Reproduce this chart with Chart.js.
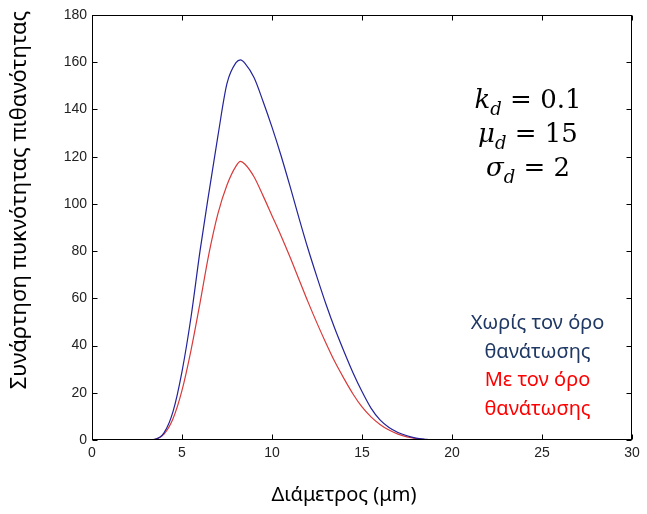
<!DOCTYPE html>
<html>
<head>
<meta charset="utf-8">
<script src="https://cdn.jsdelivr.net/npm/chart.js@4/dist/chart.umd.min.js"></script>
<style>
  body { margin: 0; background: #fff; }
  #wrap { position: relative; width: 647px; height: 514px; }
  .params {
    position: absolute; left: 440px; top: 82px; width: 176px;
    text-align: center; font-family: "DejaVu Serif", serif; font-size: 26px;
    line-height: 34px; color: #000;
  }
  .params i { font-style: italic; }
  .params sub { font-size: 18px; vertical-align: -7px; line-height: 0; font-style: italic; }
  .note {
    position: absolute; left: 442px; top: 308px; width: 191px;
    text-align: center; font-family: "Noto Sans", sans-serif; font-size: 20px;
    line-height: 28.5px;
  }
  .note .without { color: #1f3864; }
  .note .with { color: #ff0000; }
</style>
</head>
<body>
<div id="wrap">
  <canvas id="pdfChart" width="647" height="514"></canvas>
  <div class="params">
    <div><i>k</i><sub>d</sub> = 0.1</div>
    <div><i>μ</i><sub>d</sub> = 15</div>
    <div><i>σ</i><sub>d</sub> = 2</div>
  </div>
  <div class="note">
    <div class="without">Χωρίς τον όρο</div>
    <div class="without">θανάτωσης</div>
    <div class="with">Με τον όρο</div>
    <div class="with">θανάτωσης</div>
  </div>
</div>
<script>
// Δεδομένα (διάμετρος σε μm)
const diameters = [0, 1, 2, 3, 3.5, 4, 4.5, 5, 5.5, 6, 6.5, 7, 7.5, 8, 8.25, 8.5, 9, 9.5, 10, 10.5, 11,
    11.5, 12, 12.5, 13, 13.5, 14, 14.5, 15, 15.5, 16, 16.5, 17, 17.5, 18, 18.5, 19, 20, 25, 30];
const withoutDeath = [0, 0, 0, 0, 0.3, 3, 12, 29, 52, 80, 105, 129, 151, 159.8, 161, 159.5, 153.5, 143.5, 132.5, 120.5, 107.5,
    94, 81, 69, 57.5, 47, 37.5, 28.5, 20.5, 13.5, 8.5, 5.3, 3.2, 1.8, 0.8, 0.3, 0, 0, 0, 0];
const withDeath = [0, 0, 0, 0, 0.3, 2.5, 9, 21, 38, 58, 79, 96, 108, 116, 118, 116.8, 111.5, 103.5, 95, 86.5, 77.5,
    68, 58.5, 49.5, 41, 33, 26, 19.5, 14, 9.8, 6.6, 4.2, 2.5, 1.3, 0.6, 0.2, 0, 0, 0, 0];
const xTicks = [0, 5, 10, 15, 20, 25, 30];
const yTicks = [0, 20, 40, 60, 80, 100, 120, 140, 160, 180];

const toPoints = (ys) => diameters.map((d, i) => ({ x: d, y: ys[i] }));

// Πλαίσιο τύπου MATLAB με εσωτερικά ticks και τίτλους αξόνων
const matlabFrame = {
    id: 'matlabFrame',
    afterDatasetsDraw(chart) {
        const { ctx, chartArea: a, scales } = chart;
        const L = Math.round(a.left) + 0.5, R = Math.round(a.right) - 0.5;
        const T = Math.round(a.top) + 0.5, B = Math.round(a.bottom) - 0.5;
        ctx.save();
        ctx.strokeStyle = '#000';
        ctx.lineWidth = 1;
        ctx.strokeRect(L, T, R - L, B - T);
        ctx.beginPath();
        xTicks.forEach(v => {
            const px = Math.round(scales.x.getPixelForValue(v)) + 0.5;
            ctx.moveTo(px, B); ctx.lineTo(px, B - 5);
            ctx.moveTo(px, T); ctx.lineTo(px, T + 5);
        });
        yTicks.forEach(v => {
            const py = Math.round(scales.y.getPixelForValue(v)) + 0.5;
            ctx.moveTo(L, py); ctx.lineTo(L + 5, py);
            ctx.moveTo(R, py); ctx.lineTo(R - 5, py);
        });
        ctx.stroke();

        ctx.fillStyle = '#000';
        ctx.font = '20px "Noto Sans", sans-serif';
        ctx.textAlign = 'center';
        ctx.textBaseline = 'middle';
        ctx.fillText('Διάμετρος (μm)', 344, 495);
        ctx.translate(20, 200);
        ctx.rotate(-Math.PI / 2);
        ctx.font = '22px "Noto Sans", sans-serif';
        ctx.fillText('Συνάρτηση πυκνότητας πιθανότητας', 0, 0);
        ctx.restore();
    }
};

const ctx = document.getElementById('pdfChart').getContext('2d');
new Chart(ctx, {
    type: 'line',
    data: {
        datasets: [{
            label: 'Χωρίς τον όρο θανάτωσης',
            data: toPoints(withoutDeath),
            borderColor: '#23239a',
            borderWidth: 1.2,
            pointRadius: 0,
            cubicInterpolationMode: 'monotone'
        }, {
            label: 'Με τον όρο θανάτωσης',
            data: toPoints(withDeath),
            borderColor: '#d83a3a',
            borderWidth: 1.2,
            pointRadius: 0,
            cubicInterpolationMode: 'monotone'
        }]
    },
    options: {
        responsive: false,
        animation: false,
        devicePixelRatio: 1,
        layout: { padding: { left: 0, right: 15, top: 15, bottom: 0 } },
        plugins: {
            legend: { display: false },
            tooltip: { enabled: false }
        },
        scales: {
            x: {
                type: 'linear',
                min: 0,
                max: 30,
                afterFit: (s) => { s.height = 74; },
                afterBuildTicks: (s) => { s.ticks = xTicks.map(v => ({ value: v })); },
                ticks: {
                    color: '#222',
                    padding: 5,
                    font: { family: '"Liberation Sans", Arial, sans-serif', size: 14 }
                },
                grid: { display: false, drawTicks: false },
                border: { display: false }
            },
            y: {
                min: 0,
                max: 180,
                afterFit: (s) => { s.width = 92; },
                afterBuildTicks: (s) => { s.ticks = yTicks.map(v => ({ value: v })); },
                ticks: {
                    color: '#222',
                    padding: 5,
                    font: { family: '"Liberation Sans", Arial, sans-serif', size: 14 }
                },
                grid: { display: false, drawTicks: false },
                border: { display: false }
            }
        }
    },
    plugins: [matlabFrame]
});
</script>
</body>
</html>
